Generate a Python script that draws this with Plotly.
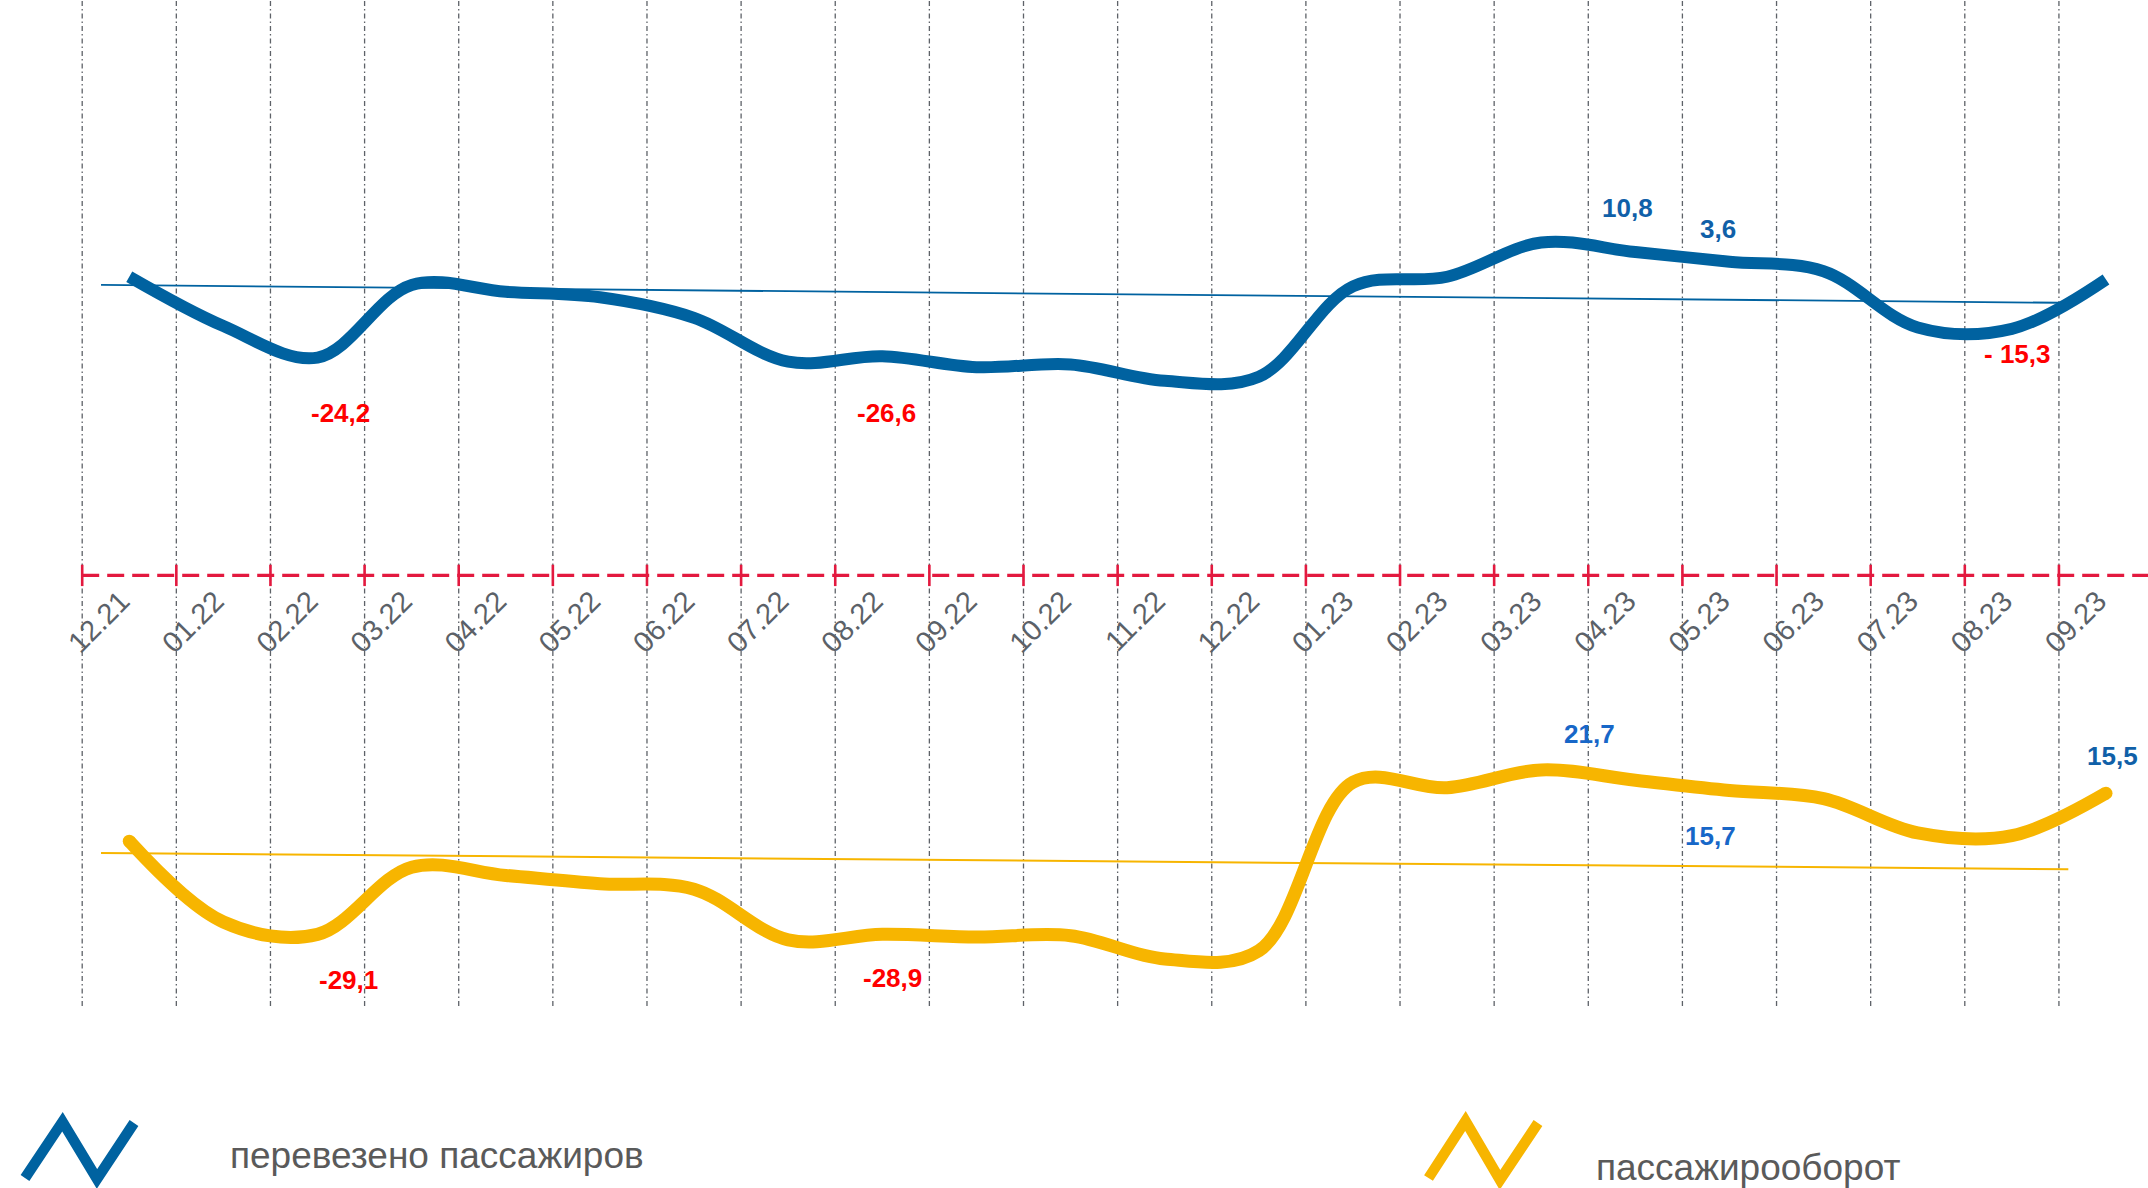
import plotly.graph_objects as go

# ---------------- data ----------------
months = ["12.21", "01.22", "02.22", "03.22", "04.22", "05.22", "06.22", "07.22",
          "08.22", "09.22", "10.22", "11.22", "12.22", "01.23", "02.23", "03.23",
          "04.23", "05.23", "06.23", "07.23", "08.23", "09.23"]

# relative level of each series (schematic chart, arbitrary units)
passengers = [21.8, 18.2, 15.9, 21.2, 20.7, 20.3, 18.8, 15.6, 16.0, 15.2, 15.4,
              14.2, 14.5, 21.1, 21.8, 24.3, 23.6, 22.9, 22.2, 18.1, 18.0, 21.6]
turnover = [-19.4, -25.3, -26.2, -21.3, -21.9, -22.5, -22.9, -26.6, -26.2, -26.4, -26.3,
            -28.0, -27.4, -15.1, -15.5, -14.2, -14.95, -15.7, -16.3, -18.8, -19.0, -15.9]

trend_passengers_x = [-0.30, 20.5]
trend_passengers_y = [21.2, 19.9]
trend_turnover_x = [-0.30, 20.6]
trend_turnover_y = [-20.26, -21.45]

# value labels: (series, month index, text)
value_labels = [
    ("p", 2, "-24,2"), ("p", 8, "-26,6"), ("p", 16, "10,8"), ("p", 17, "3,6"),
    ("p", 20, "- 15,3"),
    ("t", 2, "-29,1"), ("t", 8, "-28,9"), ("t", 16, "21,7"), ("t", 17, "15,7"),
    ("t", 21, "15,5"),
]

legend_names = ["перевезено пассажиров", "пассажирооборот"]

# ---------------- styles ----------------
W, H = 2148, 1188
BLUE = "#0062A0"
YELLOW = "#F7B500"
RED_LINE = "#E3193F"
GRID = "#5E6268"
label_style = {
    "-24,2": dict(color="#FF0000", dx=23, dy=-55),
    "-26,6": dict(color="#FF0000", dx=4, dy=-57),
    "10,8": dict(color="#1060A8", dx=-8, dy=44),
    "3,6": dict(color="#1060A8", dx=-11, dy=33),
    "- 15,3": dict(color="#FF0000", dx=6, dy=-25),
    "-29,1": dict(color="#FF0000", dx=31, dy=-46),
    "-28,9": dict(color="#FF0000", dx=10, dy=-44),
    "21,7": dict(color="#1767C8", dx=-46, dy=46),
    "15,7": dict(color="#1767C8", dx=-19, dy=-46),
    "15,5": dict(color="#1060A8", dx=6, dy=37),
}

unit_px = 94.13
xmin = -0.5 - 82.2 / unit_px
xmax = xmin + W / unit_px
ymax = 575.4 / 13.7
ymin = (575.4 - H) / 13.7

x = list(range(len(months)))

fig = go.Figure()

fig.add_trace(go.Scatter(x=trend_passengers_x, y=trend_passengers_y, mode="lines",
                         line=dict(color=BLUE, width=1.8), hoverinfo="skip", showlegend=False))
fig.add_trace(go.Scatter(x=trend_turnover_x, y=trend_turnover_y, mode="lines",
                         line=dict(color=YELLOW, width=2), hoverinfo="skip", showlegend=False))

fig.add_trace(go.Scatter(x=x, y=passengers, mode="lines", name=legend_names[0],
                         line=dict(color=BLUE, width=12, shape="spline", smoothing=1.0),
                         showlegend=False))
fig.add_trace(go.Scatter(x=x, y=turnover, mode="lines", name=legend_names[1],
                         line=dict(color=YELLOW, width=13, shape="spline", smoothing=1.0),
                         showlegend=False))
# round caps for the yellow line
fig.add_trace(go.Scatter(x=[x[0], x[-1]], y=[turnover[0], turnover[-1]], mode="markers",
                         marker=dict(color=YELLOW, size=13, line=dict(width=0)),
                         hoverinfo="skip", showlegend=False))

shapes = []
# vertical dash-dot grid at category boundaries
for i in range(len(months)):
    shapes.append(dict(type="line", xref="x", yref="paper", x0=i - 0.5, x1=i - 0.5,
                       y0=1 - 1006 / H, y1=1, layer="below",
                       line=dict(color=GRID, width=1.3, dash="5px,3px,1.5px,3px")))
# red dashed baseline
shapes.append(dict(type="line", xref="x", yref="y", x0=-0.5, x1=xmax, y0=0, y1=0,
                   line=dict(color=RED_LINE, width=3.3, dash="17px,8px")))
for i in range(len(months)):
    shapes.append(dict(type="line", xref="x", yref="y", x0=i - 0.5, x1=i - 0.5,
                       y0=-0.78, y1=0.78, line=dict(color=RED_LINE, width=2.6)))


def pp(px, py):
    return f"{px / W:.5f},{1 - py / H:.5f}"


icon_blue = [(25, 1178), (62.5, 1121.7), (97, 1179), (134, 1123)]
icon_yel = [(1428.5, 1178), (1465.5, 1121), (1500, 1180), (1538, 1123)]
for pts, col in ((icon_blue, BLUE), (icon_yel, YELLOW)):
    path = "M " + " L ".join(pp(a, b) for a, b in pts)
    shapes.append(dict(type="path", xref="paper", yref="paper", path=path,
                       line=dict(color=col, width=10.5)))

annotations = []
for series, idx, txt in value_labels:
    st = label_style[txt]
    yv = passengers[idx] if series == "p" else turnover[idx]
    annotations.append(dict(x=idx, y=yv, xref="x", yref="y", text=f"<b>{txt}</b>",
                            showarrow=False, xshift=st["dx"], yshift=st["dy"],
                            font=dict(family="Arial, Liberation Sans", size=26,
                                      color=st["color"])))

annotations.append(dict(x=228 / W, y=1 - 1155 / H, xref="paper", yref="paper",
                        xanchor="left", yanchor="middle", text=legend_names[0],
                        showarrow=False,
                        font=dict(family="Arial, Liberation Sans", size=37, color="#5A5A5A")))
annotations.append(dict(x=1594 / W, y=1 - 1167 / H, xref="paper", yref="paper",
                        xanchor="left", yanchor="middle", text=legend_names[1],
                        showarrow=False,
                        font=dict(family="Arial, Liberation Sans", size=37, color="#5A5A5A")))

fig.update_layout(
    width=W, height=H,
    margin=dict(l=0, r=0, t=0, b=0, pad=0),
    paper_bgcolor="white", plot_bgcolor="white",
    showlegend=False,
    shapes=shapes, annotations=annotations,
    xaxis=dict(range=[xmin, xmax], tickvals=x, ticktext=months, tickangle=-45,
               tickfont=dict(family="Arial, Liberation Sans", size=29, color="#5B6168"),
               showgrid=False, zeroline=False, showline=False, ticks="",
               anchor="free", position=1 - 575.4 / H, ticklabelstandoff=2,
               ticklabelshift=-8, automargin=False),
    yaxis=dict(range=[ymin, ymax], visible=False, showgrid=False, zeroline=False,
               automargin=False),
)

fig.write_html(
    "out.html",
    config={"displayModeBar": False},
    post_script="document.body.style.margin='0px';document.body.style.overflow='hidden';",
)
